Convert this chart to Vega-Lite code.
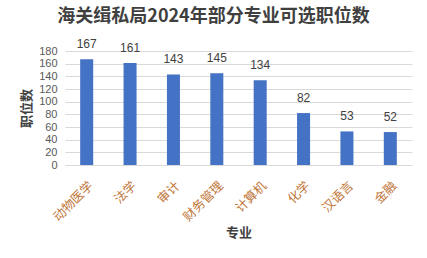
{
  "$schema": "https://vega.github.io/schema/vega-lite/v6.json",
  "width": 347,
  "height": 114,
  "autosize": "none",
  "padding": {"left": 65, "top": 51, "right": 15, "bottom": 93},
  "background": "#ffffff",
  "config": {"view": {"stroke": null}, "font": "Noto Sans CJK SC"},
  "title": {
    "text": "海关缉私局2024年部分专业可选职位数",
    "fontSize": 18,
    "fontWeight": "bold",
    "color": "#404040",
    "anchor": "middle",
    "dx": -25,
    "offset": 12,
    "font": "Noto Sans CJK SC"
  },
  "data": {
    "values": [
      {"major": "动物医学", "count": 167},
      {"major": "法学", "count": 161},
      {"major": "审计", "count": 143},
      {"major": "财务管理", "count": 145},
      {"major": "计算机", "count": 134},
      {"major": "化学", "count": 82},
      {"major": "汉语言", "count": 53},
      {"major": "金融", "count": 52}
    ]
  },
  "encoding": {
    "x": {
      "field": "major",
      "type": "nominal",
      "sort": null,
      "scale": {"paddingInner": 0.7, "paddingOuter": 0.35},
      "axis": {
        "title": "专业",
        "titleFontSize": 13,
        "titleFontWeight": "bold",
        "titleColor": "#404040",
        "titlePadding": 3,
        "labelAngle": -45,
        "labelFontSize": 12.5,
        "labelColor": "#c0763a",
        "labelPadding": 14,
        "ticks": false,
        "domain": false
      }
    },
    "y": {
      "field": "count",
      "type": "quantitative",
      "scale": {"domain": [0, 180]},
      "axis": {
        "title": "职位数",
        "titleFontSize": 13,
        "titleFontWeight": "bold",
        "titleColor": "#404040",
        "titlePadding": 5,
        "values": [0, 20, 40, 60, 80, 100, 120, 140, 160, 180],
        "labelFont": "Liberation Sans",
        "labelFontSize": 11,
        "labelColor": "#595959",
        "labelPadding": 8,
        "ticks": false,
        "domain": false,
        "gridColor": "#d9d9d9",
        "gridWidth": 1
      }
    }
  },
  "layer": [
    {"mark": {"type": "bar", "color": "#4472c4"}},
    {
      "mark": {"type": "text", "baseline": "alphabetic", "dy": -11, "font": "Liberation Sans", "fontSize": 12, "color": "#404040"},
      "encoding": {"text": {"field": "count", "type": "quantitative"}}
    }
  ]
}
